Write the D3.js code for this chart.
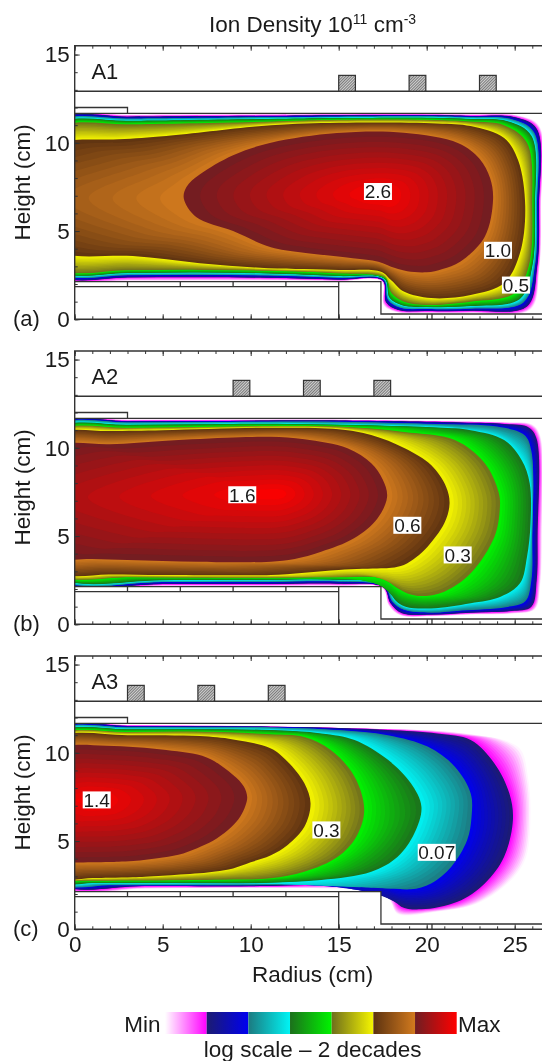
<!DOCTYPE html>
<html><head><meta charset="utf-8">
<script src="https://cdn.jsdelivr.net/npm/d3@7"></script>
<style>
html,body{margin:0;padding:0;background:#fff;overflow:hidden}
svg{display:block;filter:blur(0.35px)}
text{font-family:"Liberation Sans",Arial,sans-serif;fill:#1a1a1a}
</style></head><body>
<script>
// Colour scale, low to high density (start and end colour of each band)
const bandColors=[["#ffffff","#ff00ff"],["#1c1c70","#0000f0"],["#1c7a80","#00f4f4"],["#1c701c","#00f400"],["#6e6e1c","#f6f600"],["#5c3210","#d27a1e"],["#6e1e22","#ff0000"]];
const xMajor=[0,5,10,15,20,25], xMinor=d3.range(0,27), yMajor=[0,5,10,15], yMinor=d3.range(0,16);

// Density contours [radius, height], outermost first
const contoursA1=[
[[-10,7],[-1,11.6],[3,11.6],[6,11.61],[11,11.62],[15,11.63],[20,11.63],[22.5,11.62],[25.2,11.55],[26.4,10.95],[26.5,6.4],[26.4,2.8],[25.9,.55],[22.5,.36],[20,.36],[18.3,.4],[17.55,.8],[17.45,2.15],[15,2.17],[11,2.2],[7,2.2],[3,2.18],[-1,2.18]],
[[-10,7],[-1,11.47],[3,11.48],[6,11.5],[11,11.53],[15,11.56],[20,11.57],[22.5,11.52],[25,11.45],[26.25,10.8],[26.38,6.4],[26.28,3],[25.7,.72],[22.5,.48],[20,.47],[18.4,.52],[17.7,.95],[17.5,2.2],[15,2.25],[11,2.35],[7,2.38],[3,2.37],[-1,2.37]],
[[-10,7],[-1,11.35],[3,11.37],[6,11.4],[11,11.45],[15,11.48],[20,11.5],[22.5,11.45],[24.8,11.35],[26.1,10.6],[26.27,6.4],[26.15,3],[25.5,.95],[22.5,.6],[20,.58],[18.5,.65],[17.8,1.1],[17.55,2.25],[15,2.35],[11,2.48],[7,2.52],[3,2.5],[-1,2.5]],
[[-10,7],[-1,11.22],[3,11.25],[6,11.28],[11,11.35],[15,11.4],[20,11.42],[22.5,11.35],[24.6,11.22],[25.95,10.4],[26.15,6.4],[26,3],[25.3,1.15],[22.5,.75],[20,.7],[18.6,.8],[17.9,1.2],[17.6,2.3],[15,2.45],[11,2.6],[7,2.65],[3,2.63],[-1,2.62]],
[[-10,7],[-1,11],[3,11.05],[6,11.1],[11.15,11.2],[15,11.3],[20,11.3],[22.5,11.2],[24.4,11],[25.7,10],[26,6.4],[25.8,3],[25,1.47],[22.5,1],[20,.81],[18.7,1],[18,1.47],[17.7,2.33],[15,2.6],[11,2.75],[7,2.8],[3,2.78],[-1,2.75]],
[[-10,6.9],[-1,10.03],[2.5,10.2],[5.2,10.39],[11.15,11],[15,11.14],[20.6,11.1],[22.5,10.95],[24.4,10.27],[25.2,9],[25.6,6.4],[25.3,3.75],[24.4,2.05],[22.5,1.37],[20.25,1.2],[18.7,1.57],[18,2.2],[17.4,2.7],[15,2.8],[11,2.89],[7.1,3.18],[3.3,3.58],[-1,3.72]],
[[6.2,6.85],[6.35,7.5],[7.1,8.2],[9,9.3],[11.15,10],[14.9,10.55],[18.7,10.57],[21.8,9.98],[23,9.1],[23.6,8],[23.77,6.77],[23.3,4.68],[21.9,3.26],[20.9,2.85],[20,2.66],[18.9,2.72],[18.2,2.9],[17.25,3.26],[15.8,3.46],[12.8,3.8],[11.15,4.08],[9,5],[6.9,5.8]]
];
const contoursA2=[
[[-10,7],[-1,11.6],[3,11.6],[7,11.6],[11,11.6],[15,11.6],[22,11.5],[24.5,11.45],[26,11.32],[26.45,10.7],[26.55,5],[26.45,2.2],[26.15,.85],[24.8,.6],[22.5,.55],[20.25,.45],[18.5,.5],[17.85,1.05],[17.48,2.05],[15,2.17],[11,2.17],[5,2.17],[-1,2.17]],
[[-10,7],[-1,11.5],[3,11.51],[7,11.52],[11,11.54],[15,11.54],[22,11.43],[24.4,11.35],[25.8,11.15],[26.25,10.5],[26.3,5],[26.25,2.5],[25.95,1],[24.8,.75],[22.5,.66],[20.25,.55],[18.6,.62],[17.95,1.19],[17.55,2.1],[15,2.3],[11,2.28],[5,2.28],[-1,2.28]],
[[-10,7],[-1,11.42],[3,11.44],[7,11.46],[11,11.48],[15,11.48],[20.6,11.35],[24,11.2],[25.55,10.72],[25.95,9.8],[26,4.78],[25.95,2.5],[25.6,1.3],[24.5,.97],[22,.78],[20.25,.66],[18.7,.82],[18.05,1.28],[17.6,2.13],[15,2.42],[11,2.4],[5,2.39],[-1,2.39]],
[[-10,7],[-1,11.27],[3,11.3],[7,11.33],[11,11.36],[20.6,11.15],[22.5,11],[24.4,10.44],[25.4,9.3],[25.85,8],[25.9,5.72],[25.7,3.83],[25.3,2.32],[24.2,1.56],[22.5,1.19],[20.25,.9],[18.8,1],[18.2,1.38],[17.7,2.32],[15,2.53],[11,2.52],[5,2.5],[-1,2.5]],
[[-10,7],[-1,11.1],[3,11.13],[7,11.18],[11.15,11.23],[15,11.2],[18.7,10.9],[21.6,10.44],[23.3,9.12],[24.1,7.42],[24.15,6.47],[23.85,4.96],[22.5,2.89],[21,1.85],[19.7,1.6],[18.9,1.75],[18.35,2.04],[17.5,2.6],[15,2.66],[11,2.63],[7,2.64],[3,2.66],[-1,2.68]],
[[-10,7],[-1,10.9],[2,10.95],[5,11],[11.15,11.14],[15,11.05],[16.85,10.72],[18.75,9.97],[20.25,9.02],[21.1,7.8],[21.3,6.85],[21,5.72],[20.05,4.4],[19.4,3.8],[18.7,3.36],[18,3.2],[17.4,3.17],[15,3.08],[11.15,2.79],[9,2.78],[5,2.79],[2,2.82],[-1,2.85]],
[[-10,7],[-1,10.2],[2,10.2],[5.2,10.4],[9,10.58],[11.15,10.62],[13.05,10.48],[15.5,9.97],[16.85,9.12],[17.5,8.2],[17.75,7.23],[17.2,6],[15.87,4.87],[14,4.11],[12.5,3.7],[11.15,3.55],[10,3.52],[9,3.51],[7,3.55],[5,3.59],[3,3.65],[1,3.7],[-1,3.74]]
];
const contoursA3=[
[[-10,7.3],[-1,11.58],[3,11.58],[7,11.55],[11,11.5],[17.8,11.33],[20.6,11.25],[22.9,11],[24.4,10.72],[25.35,10.16],[25.75,8.65],[25.9,6.76],[25.65,4.11],[24.8,2.79],[22.9,1.47],[20.6,1],[18.35,.87],[18,1.47],[17.6,2.27],[15,2.3],[11,2.35],[4,2.3],[-1,2.19]],
[[-10,7.3],[-1,11.52],[3,11.52],[7,11.5],[11.15,11.47],[15,11.4],[17.8,11.29],[20.6,11.1],[22.5,10.73],[23.85,9.4],[24.7,7.7],[24.9,6.2],[24.4,4.11],[23.3,2.6],[21.75,1.56],[19.7,1.13],[18.55,1.28],[18.1,1.85],[17.7,2.51],[15,2.55],[11,2.45],[4,2.45],[-1,2.45]],
[[-10,7.3],[-1,11.44],[3,11.45],[7,11.45],[11.15,11.44],[15,11.29],[17.8,11],[20.05,10.35],[21.6,9.21],[22.5,7.7],[22.55,6.38],[22.3,5.06],[21.4,3.55],[20.25,2.6],[19.1,2.27],[17.8,2.41],[17.2,2.68],[14,2.6],[11.15,2.51],[7,2.5],[4,2.5],[2,2.5],[-1,2.5]],
[[-10,7.3],[-1,11.3],[3,11.33],[7,11.33],[11.15,11.29],[14,11.1],[15.9,10.73],[17.8,9.6],[19.1,8.27],[19.7,6.95],[19.3,5.44],[18.35,4.11],[16.85,3.26],[14,2.79],[11.15,2.64],[9,2.63],[7,2.63],[5,2.63],[4,2.63],[3,2.63],[2,2.63],[1,2.63],[-1,2.63]],
[[-10,7.3],[-1,11.14],[3,11.18],[7,11.2],[11.15,11.05],[13.05,10.9],[14.55,10.16],[15.9,8.65],[16.45,6.76],[16,5.25],[14.95,4.11],[13.05,3.26],[11.15,2.89],[9,2.82],[7.1,2.79],[6,2.78],[5,2.77],[4,2.76],[3,2.76],[2,2.75],[1,2.75],[0,2.75],[-1,2.75]],
[[-10,7.3],[-1,11],[3,11],[7.1,10.95],[9,10.76],[11.15,10.25],[12.1,9.5],[13.05,8.28],[13.4,7.14],[13.05,5.81],[12.1,4.78],[11.15,4.2],[10,3.8],[9,3.45],[8,3.28],[7.1,3.17],[6,3.1],[5,3.03],[4,2.98],[3.3,2.95],[2,2.92],[1,2.9],[-1,2.88]],
[[-10,7.3],[-1,10.33],[1.8,10.4],[5.2,10.16],[7.5,9.74],[9,8.74],[9.6,8.1],[9.8,7.5],[9.7,7],[9.4,6.38],[8.9,5.8],[8.07,5.15],[7.2,4.7],[6.17,4.3],[5,4.07],[3.33,3.87],[2.5,3.83],[2,3.81],[1.5,3.8],[1,3.8],[.5,3.79],[0,3.79],[-1,3.78]]
];
// Density peaks [radius, height]
const peakA1=[17.5,7.1], peakA2=[11.5,7.4], peakA3=[1,7.3];
// Antenna coil radii (cm) and labelled contour values
const coilsA1=[15,19,23], coilsA2=[9,13,17], coilsA3=[3,7,11];
const labelsA1=[[17.23,7.24,"2.6"],[24.05,3.91,"1.0"],[25.07,1.94,"0.5"]];
const labelsA2=[[9.52,7.34,"1.6"],[18.9,5.61,"0.6"],[21.76,3.93,"0.3"]];
const labelsA3=[[1.25,7.33,"1.4"],[14.3,5.63,"0.3"],[20.57,4.36,"0.07"]];
// Reactor geometry: polylines [radius, height]
const wallLines=[
 [[0,12.92],[27,12.92]],
 [[0,11.67],[27,11.67]],
 [[0,12],[3,12],[3,11.67]],
 [[0,2.13],[17.4,2.13],[17.4,.3],[27,.3]],
 [[0,1.85],[15,1.85]],
 [[15,2.13],[15,0]],
 [[3,2.13],[3,1.85]],[[6,2.13],[6,1.85]],[[9,2.13],[9,1.85]],[[12,2.13],[12,1.85]],
 [[20.3,.3],[20.3,0]]
];
const solidAreas=[[[0,2.13],[17.4,2.13],[17.4,.3],[27,.3],[27,0],[0,0]],[[0,11.67],[27,11.67],[27,15.5],[0,15.5]]];
const coilWidth=.95, coilHeight=.9, coilBase=12.92;

const panels=[
 {tag:"A1",letter:"(a)",contours:contoursA1,peak:peakA1,coils:coilsA1,labels:labelsA1,y0:319.3,top:45.7},
 {tag:"A2",letter:"(b)",contours:contoursA2,peak:peakA2,coils:coilsA2,labels:labelsA2,y0:624.3,top:351},
 {tag:"A3",letter:"(c)",contours:contoursA3,peak:peakA3,coils:coilsA3,labels:labelsA3,y0:929.3,top:656}
];
const W=542,H=1061,x0=74.7,pxPerCm=17.6,pyPerCm=17.65,steps=12;
const ink="#333";
const svg=d3.select("body").append("svg").attr("width",W).attr("height",H).attr("viewBox",`0 0 ${W} ${H}`);
svg.append("rect").attr("width",W).attr("height",H).attr("fill","#fff");
const defs=svg.append("defs");
const hatch=defs.append("pattern").attr("id","hatch").attr("patternUnits","userSpaceOnUse").attr("width",2).attr("height",2).attr("patternTransform","rotate(45)");
hatch.append("rect").attr("width",2).attr("height",2).attr("fill","#d0d0d0");
hatch.append("rect").attr("width",.9).attr("height",2).attr("fill","#707070");

const x=d3.scaleLinear().domain([0,1]).range([x0,x0+pxPerCm]);
const xRight=x.invert(W+2);

panels.forEach((p,pi)=>{
 const y=d3.scaleLinear().domain([0,1]).range([p.y0,p.y0-pyPerCm]);
 const yTop=y.invert(p.top);
 const g=svg.append("g");
 const clipId="clip"+pi;
 defs.append("clipPath").attr("id",clipId).append("rect").attr("x",x(0)).attr("y",p.top).attr("width",x(xRight)-x(0)).attr("height",p.y0-p.top);
 const plot=g.append("g").attr("clip-path",`url(#${clipId})`);
 const line=d3.line().x(d=>x(d[0])).y(d=>y(d[1])).curve(d3.curveCatmullRomClosed.alpha(0.5));
 // shaded bands: blend each contour into the next one
 p.contours.forEach((outer,i)=>{
  const inner=i<p.contours.length-1?p.contours[i+1]:outer.map(()=>p.peak);
  const col=d3.interpolateRgb(bandColors[i][0],bandColors[i][1]);
  for(let s=0;s<steps;s++){
   const f=s/steps;
   const pts=outer.map((a,k)=>[a[0]+(inner[k][0]-a[0])*f,a[1]+(inner[k][1]-a[1])*f]);
   plot.append("path").attr("d",line(pts)).attr("fill",col((s+.5)/steps));
  }
 });
 // solid reactor parts mask the plasma
 const poly=d3.line().x(d=>x(d[0])).y(d=>y(d[1]));
 plot.selectAll("path.solid").data(solidAreas).join("path").attr("class","solid").attr("d",d=>poly(d)+"Z").attr("fill","#fff");
 plot.selectAll("path.wall").data(wallLines).join("path").attr("class","wall").attr("d",poly).attr("fill","none").attr("stroke",ink).attr("stroke-width",1.3);
 plot.selectAll("rect.coil").data(p.coils).join("rect").attr("class","coil")
  .attr("x",d=>x(d)).attr("y",y(coilBase+coilHeight)).attr("width",x(coilWidth)-x(0)).attr("height",y(coilBase)-y(coilBase+coilHeight))
  .attr("fill","url(#hatch)").attr("stroke",ink).attr("stroke-width",1.2);
 // contour value labels
 const lab=g.selectAll("g.lab").data(p.labels).join("g").attr("class","lab").attr("transform",d=>`translate(${x(d[0])},${y(d[1])})`);
 lab.append("rect").attr("width",d=>d[2].length>3?38:28).attr("x",d=>d[2].length>3?-19:-14).attr("y",-8.5).attr("height",17).attr("fill","#fff");
 lab.append("text").attr("text-anchor","middle").attr("y",6.8).attr("font-size",19).text(d=>d[2]);
 // axes with inward ticks
 const labelled=pi===2;
 const ax=(gen,tx,ty)=>{const a=g.append("g").attr("transform",`translate(${tx},${ty})`).call(gen);
  a.select(".domain").remove();a.selectAll("line").attr("stroke",ink).attr("stroke-width",1);
  a.selectAll("text").attr("font-size",22.5).attr("fill","#1a1a1a").style("font-family",'"Liberation Sans",Arial,sans-serif');return a;};
 const xAx=x.copy().domain([0,xRight]).range([x0,x(xRight)]);
 const yAx=y.copy().domain([0,yTop]).range([p.y0,p.top]);
 ax(d3.axisBottom(xAx).tickValues(xMinor).tickSizeInner(-3).tickSizeOuter(0).tickFormat(""),0,p.y0);
 ax(d3.axisTop(xAx).tickValues(xMinor).tickSizeInner(-3).tickSizeOuter(0).tickFormat(""),0,p.top);
 ax(d3.axisBottom(xAx).tickValues(xMajor).tickSizeInner(-5).tickSizeOuter(0).tickPadding(7).tickFormat(labelled?d3.format("d"):""),0,p.y0);
 ax(d3.axisTop(xAx).tickValues(xMajor).tickSizeInner(-5).tickSizeOuter(0).tickFormat(""),0,p.top);
 ax(d3.axisLeft(yAx).tickValues(yMinor).tickSizeInner(-3).tickSizeOuter(0).tickFormat(""),x0,0);
 ax(d3.axisLeft(yAx).tickValues(yMajor).tickSizeInner(-5).tickSizeOuter(0).tickPadding(5).tickFormat(d3.format("d")),x0,0);
 g.append("path").attr("d",`M${W+3},${p.top}H${x0}V${p.y0}H${W+3}`).attr("fill","none").attr("stroke",ink).attr("stroke-width",1.4);
 g.append("text").attr("x",x(.95)).attr("y",y(13.6)).attr("font-size",22).text(p.tag);
 g.append("text").attr("x",13).attr("y",p.y0+7).attr("font-size",22).text(p.letter);
 g.append("text").attr("transform",`translate(29.5,${p.y0-137}) rotate(-90)`).attr("text-anchor","middle").attr("font-size",22.5).text("Height (cm)");
});

// title and x label
const title=svg.append("text").attr("x",209).attr("y",32).attr("font-size",22.5);
title.append("tspan").text("Ion Density 10");
title.append("tspan").attr("dy",-8).attr("font-size",14).text("11");
title.append("tspan").attr("dy",8).text(" cm");
title.append("tspan").attr("dy",-8).attr("font-size",14).text("-3");
svg.append("text").attr("x",312.7).attr("y",982).attr("text-anchor","middle").attr("font-size",22.5).text("Radius (cm)");

// colour bar
const bar=d3.scaleLinear().domain([0,bandColors.length]).range([165,456.7]);
bandColors.forEach((c,i)=>{
 const gr=defs.append("linearGradient").attr("id","band"+i);
 gr.append("stop").attr("offset","0").attr("stop-color",c[0]);
 gr.append("stop").attr("offset","1").attr("stop-color",c[1]);
 svg.append("rect").attr("x",bar(i)).attr("y",1012).attr("width",bar(i+1)-bar(i)).attr("height",22).attr("fill",`url(#band${i})`);
});
svg.append("text").attr("x",160.5).attr("y",1032).attr("text-anchor","end").attr("font-size",22.5).text("Min");
svg.append("text").attr("x",458).attr("y",1032).attr("font-size",22.5).text("Max");
svg.append("text").attr("x",312.7).attr("y",1057).attr("text-anchor","middle").attr("font-size",22.5).text("log scale – 2 decades");
</script>
</body></html>
